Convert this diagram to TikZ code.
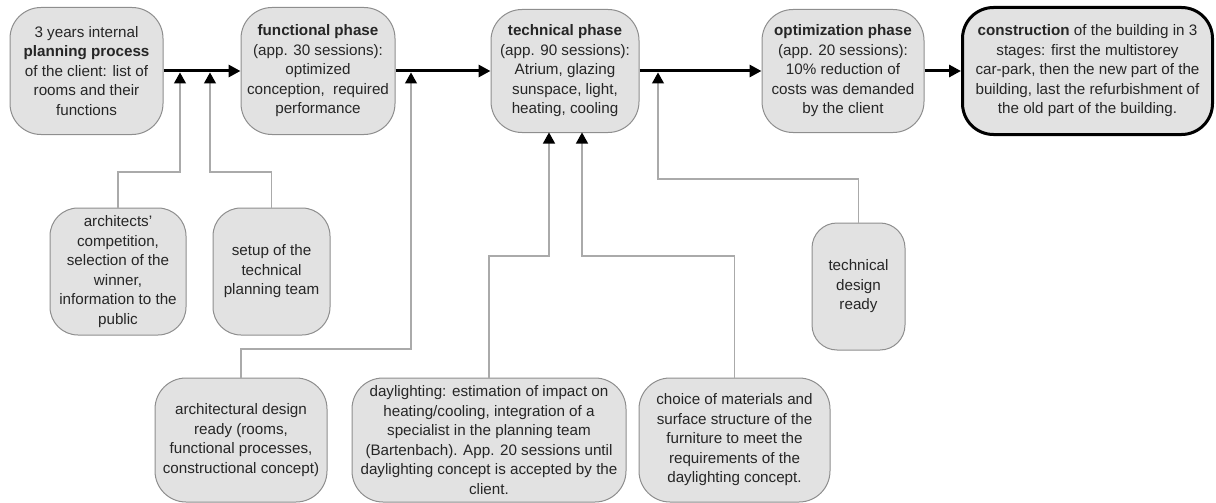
\documentclass[tikz,border=0pt]{standalone}
\usepackage{fontspec}
\setmainfont{Liberation Sans}
\usetikzlibrary{arrows.meta}
\definecolor{boxfill}{HTML}{E2E2E2}
\definecolor{boxline}{HTML}{8E8E8E}
\definecolor{connline}{HTML}{AAAAAA}
\definecolor{txt}{HTML}{262626}
\tikzset{
  box/.style={draw=boxline, line width=1pt, fill=boxfill, rounded corners=31pt,
    align=center, inner sep=0pt, text=txt,
    font=\fontsize{15.2pt}{19.5pt}\selectfont},
  finalbox/.style={box, draw=black, line width=3pt},
  mainarrow/.style={line width=3pt, -{Triangle[width=12pt,length=12pt]}},
  conn/.style={draw=connline, line width=1.2pt, line cap=rect},
  tiparrow/.style={-{Triangle[width=12pt,length=11pt, color=black]}},
}
\begin{document}
\begin{tikzpicture}[x=1pt,y=-1pt]
\useasboundingbox (0,0) rectangle (1216,503);
% top row
\node[box, minimum width=153pt, minimum height=127pt] (A) at (86.5,71)
  {3 years internal\\\textbf{planning process}\\of the client: list of\\rooms and their\\functions};
\node[box, minimum width=154pt, minimum height=127pt] (B) at (318,71)
  {\textbf{functional phase}\\(app. 30 sessions):\\optimized\\conception,~ required\\performance};
\node[box, minimum width=148pt, minimum height=123pt] (C) at (565,71)
  {\textbf{technical phase}\\(app. 90 sessions):\\Atrium, glazing\\sunspace, light,\\heating, cooling};
\node[box, minimum width=162pt, minimum height=123pt] (D) at (843,71)
  {\textbf{optimization phase}\\(app. 20 sessions):\\10\% reduction of\\costs was demanded\\by the client};
\node[finalbox, minimum width=250pt, minimum height=127pt] (E) at (1087.5,71)
  {\textbf{construction} of the building in 3\\stages: first the multistorey\\car-park, then the new part of the\\building, last the refurbishment of\\the old part of the building.};
% lower boxes
\node[box, minimum width=136pt, minimum height=127pt, rounded corners=28pt] (F) at (118,271.5)
  {architects'\\competition,\\selection of the\\winner,\\information to the\\public};
\node[box, minimum width=117pt, minimum height=127pt, rounded corners=28pt] (G) at (271.5,271.5)
  {setup of the\\technical\\planning team};
\node[box, minimum width=93pt, minimum height=127pt, rounded corners=25pt] (K) at (858.5,286.5)
  {technical\\design\\ready};
\node[box, minimum width=172pt, minimum height=124pt] (H) at (241,440)
  {architectural design\\ready (rooms,\\functional processes,\\constructional concept)};
\node[box, minimum width=274pt, minimum height=124pt] (I) at (489,440)
  {daylighting: estimation of impact on\\heating/cooling, integration of a\\specialist in the planning team\\(Bartenbach). App. 20 sessions until\\daylighting concept is accepted by the\\client.};
\node[box, minimum width=191pt, minimum height=124pt] (J) at (734.5,440)
  {choice of materials and\\surface structure of the\\furniture to meet the\\requirements of the\\daylighting concept.};
% junction points
\coordinate (j1) at (180,72.5);
\coordinate (j2) at (210,72.5);
\coordinate (j3) at (411,72.5);
\coordinate (j4) at (658,72.5);
\coordinate (c1) at (549,132.5);
\coordinate (c2) at (582,132.5);
% main flow
\draw[mainarrow] (A.east) -- (B.west);
\draw[mainarrow] (B.east) -- (C.west);
\draw[mainarrow] (C.east) -- (D.west);
\draw[mainarrow] (D.east) -- (E.west);
% feeder connectors
\draw[conn, tiparrow] (F.north) |- (180,172) -- (j1);
\draw[conn, tiparrow] (G.north) |- (210,172) -- (j2);
\draw[conn, tiparrow] (H.north) |- (411,349) -- (j3);
\draw[conn, tiparrow] (I.north) |- (549,256) -- (c1);
\draw[conn, tiparrow] (J.north) |- (582,256) -- (c2);
\draw[conn, tiparrow] (K.north) |- (658,179) -- (j4);
\end{tikzpicture}
\end{document}
